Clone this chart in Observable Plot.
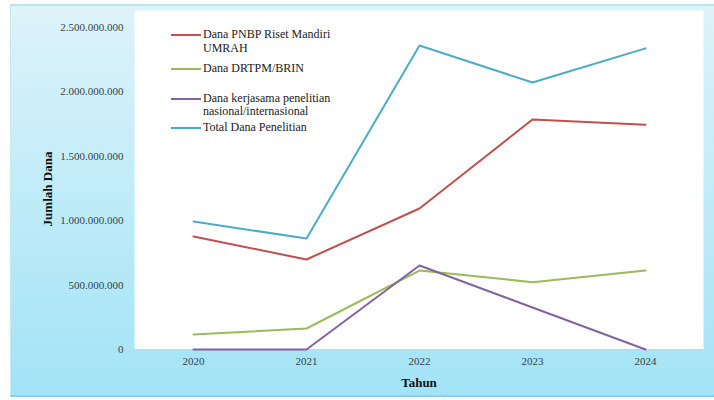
<!DOCTYPE html>
<html>
<head>
<meta charset="utf-8">
<script src="https://cdn.jsdelivr.net/npm/d3@7"></script>
<script src="https://cdn.jsdelivr.net/npm/@observablehq/plot@0.6"></script>
<style>
  html, body { margin: 0; padding: 0; background: #ffffff; }
  #wrap { position: relative; width: 714px; height: 400px; overflow: hidden; font-family: "Liberation Serif", "Times New Roman", serif; }
  #panel {
    position: absolute; left: 10px; top: 4px; width: 706px; height: 393px;
    background: linear-gradient(to bottom, #def3f9 0%, #c2ecf8 45%, #a2e3f6 100%);
    border-top: 2px solid #b9e4ef; border-left: 1px solid #c8e9f2; border-bottom: 2px solid #8fcfe2;
    box-sizing: border-box;
  }
  #chart { position: absolute; left: 0; top: 0; }
  #legend {
    position: absolute; left: 170px; top: 28px; font-size: 12px; line-height: 13.5px; color: #1a1a1a;
    font-family: "Liberation Serif", "Times New Roman", serif;
  }
  #legend .item { display: flex; align-items: flex-start; }
  #legend svg { flex: none; margin-top: 1px; }
  #legend .label { margin-left: 2px; }
</style>
</head>
<body>
<div id="wrap">
  <div id="panel"></div>
  <div id="chart"></div>
  <div id="legend"></div>
</div>
<script>
// Research funding per year (Rupiah)
const years = ["2020", "2021", "2022", "2023", "2024"];
const seriesNames = [
  "Dana PNBP Riset Mandiri UMRAH",
  "Dana DRTPM/BRIN",
  "Dana kerjasama penelitian nasional/internasional",
  "Total Dana Penelitian"
];
const legendLines = [
  ["Dana PNBP Riset Mandiri", "UMRAH"],
  ["Dana DRTPM/BRIN"],
  ["Dana kerjasama penelitian", "nasional/internasional"],
  ["Total Dana Penelitian"]
];
const pnbp      = [877000000, 699000000, 1095000000, 1786000000, 1745000000];
const drtpm     = [116000000, 163000000, 613000000, 523000000, 613000000];
const kerjasama = [0, 0, 652000000, 326000000, 0];
const total     = [993000000, 862000000, 2360000000, 2073000000, 2338000000];
const yTicks = [0, 500000000, 1000000000, 1500000000, 2000000000, 2500000000];
const colors = ["#c0504d", "#9bbb59", "#8064a2", "#4bacc6"];

const seriesValues = [pnbp, drtpm, kerjasama, total];
const rows = seriesNames.flatMap((name, i) =>
  years.map((year, j) => ({series: name, year, value: seriesValues[i][j]}))
);

const fmt = v => d3.format(",")(v).replace(/,/g, ".");

const plot = Plot.plot({
  width: 714,
  height: 400,
  marginLeft: 134,
  marginRight: 11,
  marginTop: 10,
  marginBottom: 51,
  style: {background: "transparent", fontFamily: "'Liberation Serif', 'Times New Roman', serif", fontSize: "11px", color: "#34434c"},
  x: {type: "point", domain: years, padding: 0.5, label: null},
  y: {domain: [0, 2632000000], label: null},
  color: {domain: seriesNames, range: colors},
  marks: [
    Plot.frame({fill: "#ffffff", stroke: null}),
    Plot.ruleY([0], {stroke: "#b8dbe6", strokeWidth: 1}),
    Plot.line(rows, {x: "year", y: "value", z: "series", stroke: "series", strokeWidth: 2, strokeLinejoin: "miter"}),
    Plot.axisX({tickSize: 0, tickPadding: 8, label: "Tahun", labelAnchor: "center", labelArrow: "none", labelOffset: 37}),
    Plot.axisY({ticks: yTicks, tickFormat: fmt, tickSize: 0, tickPadding: 11, label: "Jumlah Dana", labelAnchor: "center", labelArrow: "none", labelOffset: 92})
  ]
});

// Bold axis titles
d3.select(plot).selectAll("[aria-label='x-axis label'] text, [aria-label='y-axis label'] text")
  .style("font-weight", "bold").style("font-size", "13px").style("fill", "#111");
// Centre the vertical title a little lower
d3.select(plot).selectAll("[aria-label='y-axis label'] text").attr("dx", "-9");

document.getElementById("chart").appendChild(plot);

// Legend inside the plot area
const gaps = [6.5, 16.5, 2.5, 0];
const legend = d3.select("#legend");
seriesNames.forEach((name, i) => {
  const item = legend.append("div").attr("class", "item")
    .style("margin-bottom", gaps[i] + "px");
  const s = item.append("svg").attr("width", 31).attr("height", 12);
  s.append("line").attr("x1", 1).attr("x2", 31).attr("y1", 6).attr("y2", 6)
    .attr("stroke", colors[i]).attr("stroke-width", 2);
  const lab = item.append("div").attr("class", "label");
  legendLines[i].forEach(t => lab.append("div").text(t));
});
</script>
</body>
</html>
